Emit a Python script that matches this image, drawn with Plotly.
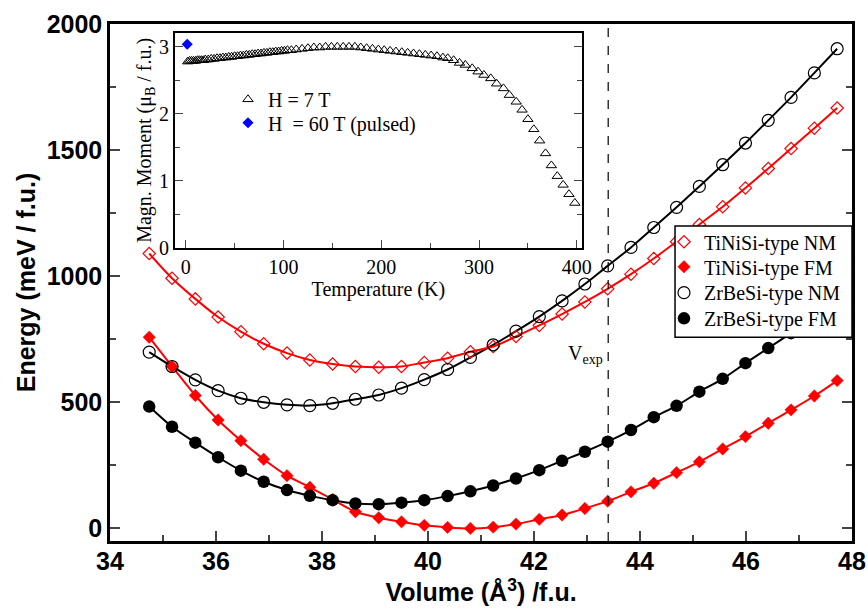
import plotly.graph_objects as go

# ---------------- data ----------------
volume = [34.74, 35.17, 35.61, 36.04, 36.47, 36.90, 37.34, 37.77, 38.20, 38.63,
          39.07, 39.50, 39.93, 40.37, 40.80, 41.23, 41.66, 42.10, 42.53, 42.96,
          43.39, 43.83, 44.26, 44.69, 45.12, 45.56, 45.99, 46.42, 46.85, 47.29, 47.72]

tinisi_nm = [1090, 992, 910, 838, 780, 732, 695, 668, 652, 642,
             639, 642, 658, 675, 700, 721, 761, 805, 850, 898,
             950, 1008, 1070, 1137, 1205, 1275, 1350, 1427, 1506, 1587, 1667]

tinisi_fm = [758, 642, 527, 430, 348, 274, 209, 163, 115, 66,
             42, 26, 12, 4, 0, 5, 17, 36, 53, 79,
             108, 145, 179, 221, 264, 315, 364, 417, 470, 525, 586]

zrbesi_nm = [699, 642, 589, 546, 516, 500, 490, 487, 496, 512,
             529, 556, 590, 630, 678, 728, 782, 840, 902, 969,
             1041, 1114, 1193, 1273, 1356, 1442, 1528, 1618, 1709, 1806, 1902]

zrbesi_fm = [483, 403, 340, 282, 229, 185, 152, 129, 112, 99,
             96, 102, 112, 128, 147, 170, 198, 231, 268, 304,
             344, 390, 441, 486, 542, 593, 655, 715, 774, 835, 897]

v_exp = 43.4

# inset: magnetisation vs temperature
temp_7t = [2, 4, 6, 8, 10, 12, 14, 16, 18, 20, 23, 26, 29, 32, 35, 38, 41, 44, 47, 50,
           53, 56, 59, 62, 65, 68, 71, 74, 77, 80, 83, 86, 89, 92, 95, 98, 101, 104, 108,
           113, 119, 125, 131, 137, 143, 149, 155, 161, 167, 173, 179, 185, 191, 197,
           203, 209, 215, 221, 227, 233, 239, 245, 251, 257, 263, 268, 274, 280, 286,
           293, 299, 305, 312, 318, 325, 331, 338, 344, 350, 356, 362, 368, 374, 380,
           386, 392, 398]
moment_7t = [2.78, 2.79, 2.79, 2.79, 2.79, 2.80, 2.80, 2.80, 2.80, 2.81, 2.81, 2.82, 2.82,
             2.83, 2.83, 2.84, 2.84, 2.85, 2.85, 2.86, 2.86, 2.87, 2.87, 2.88, 2.88, 2.89,
             2.89, 2.90, 2.90, 2.91, 2.91, 2.92, 2.92, 2.93, 2.93, 2.94, 2.94, 2.95, 2.95,
             2.96, 2.97, 2.98, 2.99, 2.99, 3.00, 3.00, 3.00, 3.00, 3.00, 3.00, 2.99, 2.98,
             2.97, 2.96, 2.95, 2.94, 2.93, 2.92, 2.91, 2.90, 2.89, 2.88, 2.87, 2.86, 2.84,
             2.83, 2.80, 2.76, 2.73, 2.68, 2.63, 2.58, 2.53, 2.45, 2.38, 2.28, 2.18, 2.06,
             1.92, 1.77, 1.60, 1.41, 1.23, 1.07, 0.94, 0.80, 0.67]
temp_60t = [1.5]
moment_60t = [3.04]

RED = "rgb(255,0,0)"
BLK = "black"
SERIF = "Liberation Serif"
SANS = "Liberation Sans"

fig = go.Figure()

# smooth lines (no legend)
for ys, col in [(zrbesi_fm, BLK), (tinisi_fm, RED), (zrbesi_nm, BLK), (tinisi_nm, RED)]:
    fig.add_trace(go.Scatter(x=volume, y=ys, mode="lines", line=dict(color=col, width=2, shape="spline", smoothing=0.8),
                             showlegend=False, hoverinfo="skip"))

# markers, each in its own legend so that the entry spacing matches the original
fig.add_trace(go.Scatter(x=volume, y=tinisi_nm, mode="markers", name="TiNiSi-type NM", legend="legend",
                         marker=dict(symbol="diamond-open", size=9.5, color=RED, line=dict(width=1.2, color=RED))))
fig.add_trace(go.Scatter(x=volume, y=tinisi_fm, mode="markers", name="TiNiSi-type FM", legend="legend3",
                         marker=dict(symbol="diamond", size=9.5, color=RED, line=dict(width=0.5, color=RED))))
fig.add_trace(go.Scatter(x=volume, y=zrbesi_nm, mode="markers", name="ZrBeSi-type NM", legend="legend4",
                         marker=dict(symbol="circle-open", size=12, color=BLK, line=dict(width=1.2, color=BLK))))
fig.add_trace(go.Scatter(x=volume, y=zrbesi_fm, mode="markers", name="ZrBeSi-type FM", legend="legend5",
                         marker=dict(symbol="circle", size=12.5, color=BLK)))

# inset traces
fig.add_trace(go.Scatter(x=temp_7t, y=moment_7t, mode="markers", name="H = 7 T", xaxis="x2", yaxis="y2",
                         legend="legend2",
                         marker=dict(symbol="triangle-up-open", size=9, color=BLK, line=dict(width=1, color=BLK))))
fig.add_trace(go.Scatter(x=temp_60t, y=moment_60t, mode="markers", name="H  = 60 T (pulsed)", xaxis="x2", yaxis="y2",
                         legend="legend6",
                         marker=dict(symbol="diamond", size=8.5, color="rgb(0,0,255)")))

# V_exp dashed line
fig.add_shape(type="line", xref="x", yref="paper", x0=v_exp, x1=v_exp, y0=0, y1=1,
              line=dict(color=BLK, width=1.2, dash="dash"))
fig.add_annotation(x=v_exp, y=690, xref="x", yref="y", text="V<sub>exp</sub>", showarrow=False,
                   xanchor="right", yanchor="middle", xshift=-3,
                   font=dict(family=SERIF, size=20, color=BLK))

# legend box (frame behind the legend entries)
fig.add_shape(type="rect", xref="paper", yref="paper", x0=0.7615, x1=1.0, y0=0.394, y1=0.6093,
              layer="above", fillcolor="white", line=dict(color=BLK, width=1.5))

leg_font = dict(family=SERIF, size=20, color=BLK)


def leg(x, y):
    return dict(x=x, y=y, xanchor="left", yanchor="middle", bgcolor="rgba(0,0,0,0)", borderwidth=0,
                font=leg_font, itemwidth=30)


tick_main = dict(family=SANS, size=25, color=BLK, weight="bold")
fig.update_layout(
    width=868, height=611,
    margin=dict(l=110, r=16, t=24, b=70),
    paper_bgcolor="white", plot_bgcolor="white",
    xaxis=dict(range=[34, 48], dtick=2, tick0=34, ticks="inside", ticklen=10, tickwidth=1.5,
               minor=dict(dtick=1, ticks="inside", ticklen=6, tickwidth=1.5),
               showline=True, linewidth=2.5, linecolor=BLK, mirror=True, showgrid=False, zeroline=False,
               tickfont=tick_main, automargin=False, ticklabelstandoff=-4,
               title=dict(text="Volume (Å<sup>3</sup>) /f.u.", font=dict(family=SANS, size=25, color=BLK, weight="bold"),
                          standoff=2)),
    yaxis=dict(range=[-50, 2000], dtick=500, tick0=0, ticks="inside", ticklen=10, tickwidth=1.5,
               minor=dict(dtick=250, ticks="inside", ticklen=6, tickwidth=1.5),
               showline=True, linewidth=2.5, linecolor=BLK, mirror="ticks", showgrid=False, zeroline=False,
               tickfont=tick_main, automargin=False,
               title=dict(text="Energy (meV / f.u.)", font=dict(family=SANS, size=25, color=BLK, weight="bold"),
                          standoff=4)),
    xaxis2=dict(domain=[0.0876, 0.6357], anchor="y2", range=[-11, 405], dtick=100, tick0=0,
                ticks="inside", ticklen=8, tickwidth=1.2,
                minor=dict(dtick=50, ticks="inside", ticklen=5, tickwidth=1.2),
                showline=True, linewidth=2, linecolor=BLK, mirror=True, showgrid=False, zeroline=False,
                tickfont=dict(family=SERIF, size=20, color=BLK), automargin=False,
                title=dict(text="Temperature (K)", font=dict(family=SERIF, size=20, color=BLK), standoff=0)),
    yaxis2=dict(domain=[0.567, 0.983], anchor="x2", range=[0, 3.21], dtick=1, tick0=0,
                ticks="inside", ticklen=8, tickwidth=1.2,
                minor=dict(dtick=0.5, ticks="inside", ticklen=5, tickwidth=1.2),
                showline=True, linewidth=2, linecolor=BLK, mirror="ticks", showgrid=False, zeroline=False,
                tickfont=dict(family=SERIF, size=20, color=BLK), automargin=False,
                title=dict(text="Magn. Moment (μ<sub>B</sub> / f.u.)", font=dict(family=SERIF, size=20, color=BLK),
                           standoff=2)),
    legend=leg(0.7466, 0.5789),
    legend3=leg(0.7466, 0.5305),
    legend4=leg(0.7466, 0.4803),
    legend5=leg(0.7466, 0.4307),
    legend2=leg(0.159, 0.8543),
    legend6=leg(0.159, 0.8091),
)

fig.write_html("out.html", config={"displayModeBar": False},
               post_script="document.body.style.margin='0';document.body.style.overflow='hidden';")
